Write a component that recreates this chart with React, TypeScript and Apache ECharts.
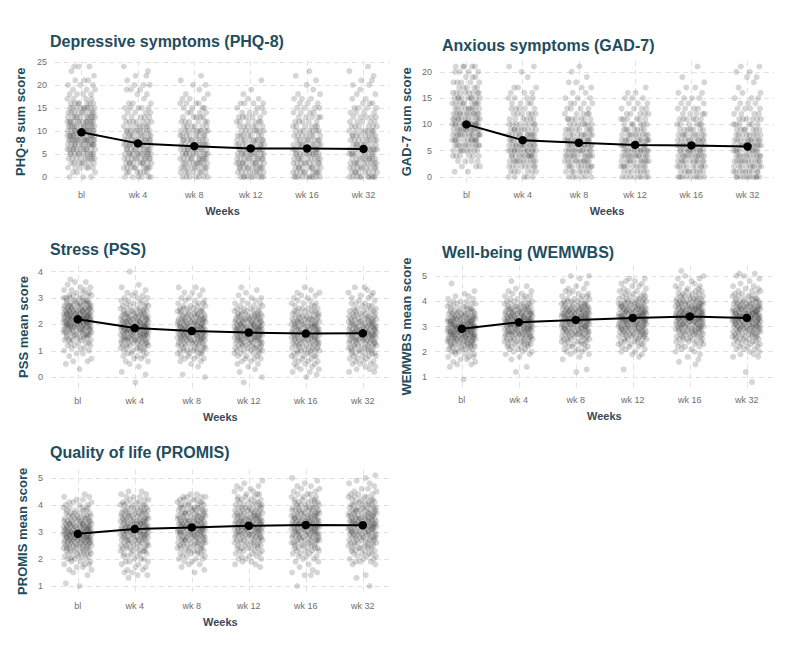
import React, { useEffect, useRef } from "react";
import * as echarts from "echarts";

const WEEKS = ["bl", "wk 4", "wk 8", "wk 12", "wk 16", "wk 32"];
const CAT_INDEX = [0, 1, 2, 3, 4, 5];

// Mean lines
const PHQ_MEANS = [9.7, 7.3, 6.7, 6.2, 6.2, 6.1];
const GAD_MEANS = [10.0, 7.0, 6.5, 6.1, 6.0, 5.8];
const PSS_MEANS = [2.19, 1.86, 1.75, 1.69, 1.65, 1.66];
const WEM_MEANS = [2.91, 3.17, 3.26, 3.34, 3.4, 3.34];
const PROMIS_MEANS = [2.93, 3.11, 3.17, 3.23, 3.26, 3.25];

// Tick labels
const PHQ_TICKS = [0, 5, 10, 15, 20, 25];
const GAD_TICKS = [0, 5, 10, 15, 20];
const PSS_TICKS = [0, 1, 2, 3, 4];
const WEM_TICKS = [1, 2, 3, 4, 5];
const PROMIS_TICKS = [1, 2, 3, 4, 5];

// Score values (bins) and number of participants at each value, per week
const PHQ_VALUES = [0, 1, 2, 3, 4, 5, 6, 7, 8, 9, 10, 11, 12, 13, 14, 15, 16, 17, 18, 19, 20, 21, 22, 23, 24];
const PHQ_COUNTS = [
  [3, 3, 6, 7, 9, 10, 11, 12, 14, 13, 13, 12, 12, 10, 9, 9, 7, 4, 4, 3, 3, 3, 1, 1, 3],
  [6, 6, 9, 9, 10, 11, 10, 10, 10, 9, 9, 7, 7, 5, 4, 5, 3, 1, 2, 3, 3, 1, 2, 1, 1],
  [7, 7, 9, 9, 10, 10, 10, 9, 9, 8, 9, 6, 6, 5, 4, 4, 4, 3, 2, 1, 2, 1, 1, 0, 0],
  [9, 8, 10, 10, 10, 10, 10, 9, 9, 7, 7, 6, 6, 5, 4, 3, 4, 2, 1, 1, 0, 1, 0, 0, 0],
  [10, 9, 9, 9, 9, 10, 9, 9, 8, 7, 7, 6, 5, 5, 4, 4, 3, 3, 2, 1, 1, 1, 1, 1, 0],
  [10, 8, 9, 9, 9, 9, 9, 8, 8, 8, 7, 6, 5, 5, 4, 4, 3, 2, 2, 1, 2, 2, 1, 1, 1],
];

const GAD_VALUES = [0, 1, 2, 3, 4, 5, 6, 7, 8, 9, 10, 11, 12, 13, 14, 15, 16, 17, 18, 19, 20, 21];
const GAD_COUNTS = [
  [0, 2, 3, 4, 6, 8, 10, 11, 12, 12, 13, 11, 11, 9, 9, 9, 8, 5, 5, 3, 4, 5],
  [5, 6, 8, 10, 11, 12, 12, 11, 10, 9, 8, 6, 6, 5, 4, 4, 3, 3, 0, 1, 1, 2],
  [6, 7, 9, 10, 11, 11, 11, 11, 9, 8, 7, 7, 5, 4, 4, 3, 2, 2, 2, 1, 1, 1],
  [8, 7, 9, 10, 11, 11, 11, 11, 9, 7, 6, 6, 5, 4, 3, 3, 2, 1, 0, 0, 0, 0],
  [9, 8, 9, 10, 11, 11, 11, 10, 9, 7, 6, 6, 5, 4, 3, 3, 2, 2, 1, 1, 0, 1],
  [10, 9, 9, 10, 10, 10, 10, 10, 8, 7, 6, 6, 4, 4, 3, 3, 2, 1, 1, 2, 2, 2],
];

const PSS_VALUES = [-0.2, -0.1, 0, 0.1, 0.2, 0.3, 0.4, 0.5, 0.6, 0.7, 0.8, 0.9, 1, 1.1, 1.2, 1.3, 1.4, 1.5, 1.6, 1.7, 1.8, 1.9, 2, 2.1, 2.2, 2.3, 2.4, 2.5, 2.6, 2.7, 2.8, 2.9, 3, 3.1, 3.2, 3.3, 3.4, 3.5, 3.6, 3.7, 3.8, 3.9, 4];
const PSS_COUNTS = [
  [0, 0, 0, 0, 0, 1, 0, 1, 2, 1, 1, 2, 2, 3, 3, 4, 5, 6, 7, 8, 9, 10, 11, 11, 12, 11, 11, 10, 9, 8, 7, 6, 5, 4, 3, 3, 2, 1, 2, 1, 0, 0, 0],
  [1, 0, 0, 1, 1, 0, 1, 1, 2, 2, 3, 3, 4, 5, 6, 7, 8, 9, 9, 10, 10, 10, 10, 9, 9, 8, 7, 6, 5, 4, 4, 3, 3, 2, 2, 1, 1, 1, 0, 0, 0, 0, 1],
  [0, 0, 1, 1, 0, 0, 1, 1, 2, 3, 3, 4, 6, 5, 6, 7, 8, 9, 9, 10, 10, 9, 9, 9, 8, 7, 6, 6, 5, 4, 3, 3, 2, 1, 2, 1, 2, 0, 0, 0, 0, 0, 0],
  [1, 0, 1, 0, 1, 1, 1, 2, 2, 3, 3, 4, 5, 6, 6, 7, 8, 9, 9, 10, 10, 10, 9, 8, 8, 7, 6, 5, 4, 3, 3, 2, 2, 1, 1, 1, 1, 0, 0, 0, 0, 0, 0],
  [0, 0, 1, 1, 2, 2, 2, 3, 3, 3, 4, 4, 6, 5, 6, 7, 7, 8, 8, 8, 8, 8, 8, 7, 7, 6, 5, 5, 4, 3, 3, 2, 2, 2, 2, 1, 1, 0, 0, 0, 0, 0, 0],
  [0, 0, 0, 0, 2, 2, 2, 3, 3, 3, 4, 5, 5, 6, 6, 7, 8, 8, 8, 9, 9, 8, 8, 7, 7, 6, 5, 5, 4, 3, 3, 2, 2, 2, 2, 1, 2, 0, 0, 0, 0, 0, 0],
];

const WEM_VALUES = [0.8, 0.9, 1, 1.1, 1.2, 1.3, 1.4, 1.5, 1.6, 1.7, 1.8, 1.9, 2, 2.1, 2.2, 2.3, 2.4, 2.5, 2.6, 2.7, 2.8, 2.9, 3, 3.1, 3.2, 3.3, 3.4, 3.5, 3.6, 3.7, 3.8, 3.9, 4, 4.1, 4.2, 4.3, 4.4, 4.5, 4.6, 4.7, 4.8, 4.9, 5, 5.1, 5.2];
const WEM_COUNTS = [
  [0, 1, 0, 0, 0, 0, 1, 2, 2, 2, 3, 3, 4, 5, 6, 7, 8, 9, 10, 10, 11, 11, 11, 10, 10, 9, 8, 7, 6, 5, 4, 4, 3, 2, 2, 1, 1, 0, 0, 1, 0, 0, 0, 0, 0],
  [0, 0, 0, 0, 1, 0, 1, 0, 0, 1, 1, 2, 3, 3, 4, 5, 6, 6, 7, 8, 9, 9, 10, 10, 10, 10, 9, 9, 8, 7, 6, 5, 4, 3, 3, 2, 2, 1, 1, 0, 1, 0, 0, 0, 0],
  [0, 0, 0, 0, 1, 1, 0, 0, 0, 1, 1, 2, 3, 3, 3, 4, 5, 5, 6, 7, 8, 8, 9, 9, 10, 10, 10, 9, 9, 8, 7, 6, 5, 4, 3, 3, 2, 2, 1, 1, 1, 1, 2, 0, 0],
  [0, 0, 0, 0, 0, 1, 0, 0, 0, 0, 1, 2, 2, 2, 3, 4, 4, 5, 6, 7, 8, 8, 9, 9, 10, 10, 10, 9, 9, 8, 8, 7, 6, 5, 4, 3, 3, 2, 2, 2, 2, 2, 0, 0, 0],
  [0, 0, 0, 0, 0, 0, 0, 1, 1, 1, 1, 1, 2, 2, 3, 3, 4, 5, 5, 6, 7, 8, 8, 9, 9, 10, 10, 10, 9, 9, 8, 8, 7, 6, 5, 4, 3, 3, 2, 2, 1, 2, 2, 0, 1],
  [1, 0, 0, 0, 1, 0, 0, 0, 0, 0, 2, 2, 2, 3, 3, 4, 4, 5, 6, 6, 7, 8, 9, 9, 9, 10, 10, 10, 9, 9, 8, 7, 6, 5, 4, 3, 3, 2, 2, 1, 1, 1, 2, 2, 0],
];

const PROMIS_VALUES = [1, 1.1, 1.2, 1.3, 1.4, 1.5, 1.6, 1.7, 1.8, 1.9, 2, 2.1, 2.2, 2.3, 2.4, 2.5, 2.6, 2.7, 2.8, 2.9, 3, 3.1, 3.2, 3.3, 3.4, 3.5, 3.6, 3.7, 3.8, 3.9, 4, 4.1, 4.2, 4.3, 4.4, 4.5, 4.6, 4.7, 4.8, 4.9, 5, 5.1];
const PROMIS_COUNTS = [
  [1, 1, 0, 0, 1, 1, 2, 2, 3, 3, 4, 5, 5, 6, 7, 8, 9, 10, 11, 11, 11, 10, 10, 9, 8, 7, 6, 5, 4, 4, 3, 3, 2, 2, 1, 0, 0, 0, 0, 0, 0, 0],
  [0, 0, 0, 1, 2, 2, 2, 2, 2, 3, 3, 3, 4, 5, 5, 6, 6, 7, 8, 8, 9, 9, 9, 9, 8, 8, 7, 7, 6, 5, 5, 4, 3, 3, 2, 2, 0, 0, 0, 0, 0, 0],
  [0, 0, 0, 0, 0, 1, 1, 1, 2, 2, 3, 3, 4, 5, 5, 6, 7, 7, 8, 8, 9, 9, 9, 9, 8, 8, 7, 7, 6, 6, 5, 4, 4, 4, 2, 0, 0, 0, 0, 0, 0, 0],
  [0, 0, 0, 0, 0, 0, 0, 1, 2, 2, 3, 3, 3, 4, 5, 5, 6, 6, 7, 8, 8, 9, 9, 9, 9, 8, 8, 7, 6, 6, 5, 4, 4, 3, 3, 2, 2, 2, 1, 1, 0, 0],
  [1, 0, 0, 0, 2, 2, 1, 1, 1, 2, 2, 3, 3, 4, 5, 5, 6, 7, 7, 8, 8, 9, 9, 9, 9, 8, 8, 7, 7, 6, 5, 5, 4, 3, 3, 2, 2, 2, 1, 1, 1, 0],
  [1, 0, 0, 1, 1, 0, 0, 0, 2, 3, 3, 3, 4, 4, 5, 5, 6, 6, 7, 7, 8, 8, 9, 9, 9, 8, 8, 7, 7, 6, 5, 5, 4, 4, 3, 2, 2, 1, 2, 1, 1, 1],
];

// Horizontal jitter offsets (category units) used to spread the points
const JITTER = [0.03, -0.21, 0.17, -0.08, 0.24, -0.15, 0.09, -0.02, 0.2, -0.24, 0.12, -0.11, 0.05, 0.22, -0.18, -0.05, 0.14, -0.13, 0.01, 0.19, -0.23, 0.07, -0.09, 0.23, -0.16, 0.11, -0.01, 0.16, -0.2, 0.04, -0.12, 0.21, -0.06, 0.1, -0.19, 0.15, -0.04, 0.18, -0.25, 0.08, -0.14];

function buildPoints(values: number[], counts: number[][]) {
  const pts: number[][] = [];
  let k = 0;
  counts.forEach((row, w) => {
    row.forEach((c, i) => {
      for (let n = 0; n < c; n++) {
        pts.push([CAT_INDEX[w] + JITTER[k % JITTER.length], values[i]]);
        k++;
      }
    });
  });
  return pts;
}

const TITLE_COLOR = "#1f4d5e";
const FONT = "'Liberation Sans', Arial, Helvetica, sans-serif";

const PANELS = [
  { title: "Depressive symptoms (PHQ-8)", tLeft: 50, tTop: 33, yName: "PHQ-8 sum score", values: PHQ_VALUES, counts: PHQ_COUNTS, means: PHQ_MEANS, ticks: PHQ_TICKS, ymin: -1.2, ymax: 25.2, grid: { left: 55, top: 61, width: 335, height: 121.5 }, nameGap: 28 },
  { title: "Anxious symptoms (GAD-7)", tLeft: 442, tTop: 37, yName: "GAD-7 sum score", values: GAD_VALUES, counts: GAD_COUNTS, means: GAD_MEANS, ticks: GAD_TICKS, ymin: -1.05, ymax: 22.05, grid: { left: 440, top: 61, width: 334, height: 121.5 }, nameGap: 27 },
  { title: "Stress (PSS)", tLeft: 50, tTop: 241, yName: "PSS mean score", values: PSS_VALUES, counts: PSS_COUNTS, means: PSS_MEANS, ticks: PSS_TICKS, ymin: -0.41, ymax: 4.21, grid: { left: 51, top: 266, width: 338.6, height: 122 }, nameGap: 21.5 },
  { title: "Well-being (WEMWBS)", tLeft: 442, tTop: 244, yName: "WEMWBS mean score", values: WEM_VALUES, counts: WEM_COUNTS, means: WEM_MEANS, ticks: WEM_TICKS, ymin: 0.58, ymax: 5.42, grid: { left: 435, top: 265.4, width: 338.6, height: 122.2 }, nameGap: 22.5 },
  { title: "Quality of life (PROMIS)", tLeft: 50, tTop: 444, yName: "PROMIS mean score", values: PROMIS_VALUES, counts: PROMIS_COUNTS, means: PROMIS_MEANS, ticks: PROMIS_TICKS, ymin: 0.74, ymax: 5.31, grid: { left: 51, top: 469.6, width: 338.6, height: 123.4 }, nameGap: 22 },
];

export default function App() {
  const ref = useRef<HTMLDivElement>(null);
  useEffect(() => {
    if (!ref.current) return;
    const chart = echarts.init(ref.current, undefined, { renderer: "svg" });
    const splitLine = { show: true, lineStyle: { color: "#e2e2e2", type: [5, 4] as any, width: 1 } };
    const option: any = {
      animation: false,
      backgroundColor: "#ffffff",
      textStyle: { fontFamily: FONT },
      title: PANELS.map((p) => ({
        text: p.title,
        left: p.tLeft,
        top: p.tTop,
        padding: 0,
        textStyle: { fontSize: 16, fontWeight: "bold", color: TITLE_COLOR, fontFamily: FONT },
      })),
      grid: PANELS.map((p) => ({ ...p.grid, containLabel: false })),
      xAxis: PANELS.map((p, i) => ({
        type: "value",
        gridIndex: i,
        min: -0.47,
        max: 5.47,
        name: "Weeks",
        nameLocation: "middle",
        nameGap: 23,
        nameTextStyle: { fontSize: 11, fontWeight: "bold", color: "#3b4858", fontFamily: FONT },
        axisLine: { show: false },
        axisTick: { show: false, customValues: CAT_INDEX },
        axisLabel: {
          customValues: CAT_INDEX,
          formatter: (v: number) => WEEKS[Math.round(v)] ?? "",
          fontSize: 9,
          color: "#6e6e6e",
          margin: 8,
          fontFamily: FONT,
        },
        splitLine,
      })),
      yAxis: PANELS.map((p, i) => ({
        type: "value",
        gridIndex: i,
        min: p.ymin,
        max: p.ymax,
        name: p.yName,
        nameLocation: "middle",
        nameGap: p.nameGap,
        nameTextStyle: { fontSize: 13, fontWeight: "bold", color: TITLE_COLOR, fontFamily: FONT },
        axisLine: { show: false },
        axisTick: { show: false, customValues: p.ticks },
        axisLabel: { customValues: p.ticks, fontSize: 9, color: "#6e6e6e", margin: 8, fontFamily: FONT },
        splitLine,
      })),
      series: [
        ...PANELS.map((p, i) => ({
          type: "scatter",
          xAxisIndex: i,
          yAxisIndex: i,
          data: buildPoints(p.values, p.counts),
          symbolSize: 6,
          silent: true,
          progressive: 0,
          itemStyle: { color: "rgba(0,0,0,0.2)" },
          z: 2,
        })),
        ...PANELS.map((p, i) => ({
          type: "line",
          xAxisIndex: i,
          yAxisIndex: i,
          data: p.means.map((m, j) => [CAT_INDEX[j], m]),
          symbol: "circle",
          symbolSize: 8.5,
          lineStyle: { color: "#000", width: 2 },
          itemStyle: { color: "#000" },
          silent: true,
          z: 5,
        })),
      ],
    };
    chart.setOption(option);
    return () => chart.dispose();
  }, []);
  return (
    <div
      ref={ref}
      style={{ position: "fixed", left: 0, top: 0, width: 800, height: 659, background: "#fff" }}
    />
  );
}
